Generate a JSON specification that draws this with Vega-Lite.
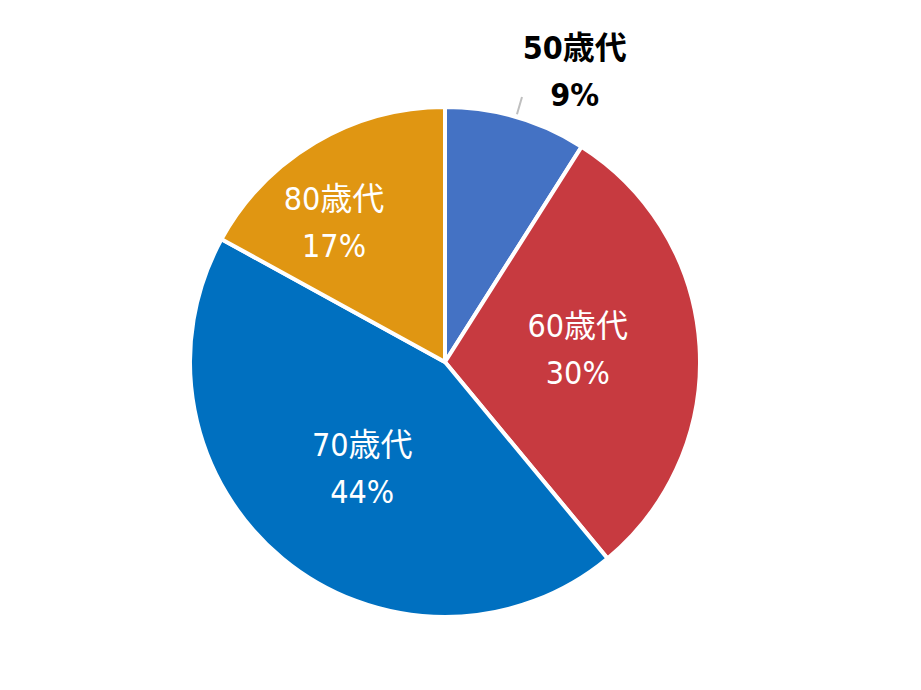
{
  "$schema": "https://vega.github.io/schema/vega-lite/v6.json",
  "autosize": "none",
  "width": 890,
  "height": 724,
  "padding": 0,
  "background": "white",
  "view": {"stroke": null},
  "data": {
    "values": [
      {"age": "50歳代", "pct": 9, "order": 1},
      {"age": "60歳代", "pct": 30, "order": 2},
      {"age": "70歳代", "pct": 44, "order": 3},
      {"age": "80歳代", "pct": 17, "order": 4}
    ]
  },
  "transform": [
    {"stack": "pct", "groupby": [], "sort": [{"field": "order"}], "as": ["p0", "p1"]},
    {"calculate": "(datum.p0 + datum.p1) / 2", "as": "mid"},
    {"calculate": "[datum.age, datum.pct + '%']", "as": "label"}
  ],
  "layer": [
    {
      "mark": {"type": "arc", "outerRadius": 255, "stroke": "white", "strokeWidth": 4},
      "encoding": {
        "theta": {"field": "p0", "type": "quantitative", "scale": {"domain": [0, 100]}},
        "theta2": {"field": "p1"},
        "color": {
          "field": "age",
          "type": "nominal",
          "legend": null,
          "scale": {
            "domain": ["50歳代", "60歳代", "70歳代", "80歳代"],
            "range": ["#4472C4", "#C73A40", "#0070C0", "#E09612"]
          }
        }
      }
    },
    {
      "transform": [{"filter": "datum.order == 2"}],
      "mark": {
        "type": "text",
        "radius": 133,
        "fill": "white",
        "font": "DejaVu Sans Condensed, Noto Sans CJK JP",
        "fontSize": 32,
        "lineHeight": 47,
        "baseline": "middle",
        "dy": -27
      },
      "encoding": {
        "theta": {"field": "mid", "type": "quantitative", "scale": {"domain": [0, 100]}},
        "text": {"field": "label"}
      }
    },
    {
      "transform": [{"filter": "datum.order == 3"}],
      "mark": {
        "type": "text",
        "radius": 133,
        "fill": "white",
        "font": "DejaVu Sans Condensed, Noto Sans CJK JP",
        "fontSize": 32,
        "lineHeight": 47,
        "baseline": "middle",
        "dx": 2,
        "dy": -18
      },
      "encoding": {
        "theta": {"field": "mid", "type": "quantitative", "scale": {"domain": [0, 100]}},
        "text": {"field": "label"}
      }
    },
    {
      "transform": [{"filter": "datum.order == 4"}],
      "mark": {
        "type": "text",
        "radius": 163,
        "fill": "white",
        "font": "DejaVu Sans Condensed, Noto Sans CJK JP",
        "fontSize": 32,
        "lineHeight": 47,
        "baseline": "middle",
        "dx": -28,
        "dy": -22
      },
      "encoding": {
        "theta": {"field": "mid", "type": "quantitative", "scale": {"domain": [0, 100]}},
        "text": {"field": "label"}
      }
    },
    {
      "transform": [{"filter": "datum.order == 1"}],
      "mark": {
        "type": "text",
        "radius": 300,
        "fill": "black",
        "fontWeight": "bold",
        "font": "DejaVu Sans Condensed, Noto Sans CJK JP",
        "fontSize": 32,
        "lineHeight": 47,
        "baseline": "middle",
        "dx": 46,
        "dy": -25
      },
      "encoding": {
        "theta": {"field": "mid", "type": "quantitative", "scale": {"domain": [0, 100]}},
        "text": {"field": "label"}
      }
    },
    {
      "transform": [{"filter": "datum.order == 1"}],
      "mark": {
        "type": "arc",
        "radius": 258,
        "radius2": 276,
        "stroke": "#BFBFBF",
        "strokeWidth": 2,
        "fill": null
      },
      "encoding": {
        "theta": {"field": "mid", "type": "quantitative", "scale": {"domain": [0, 100]}},
        "theta2": {"field": "mid"}
      }
    }
  ]
}
